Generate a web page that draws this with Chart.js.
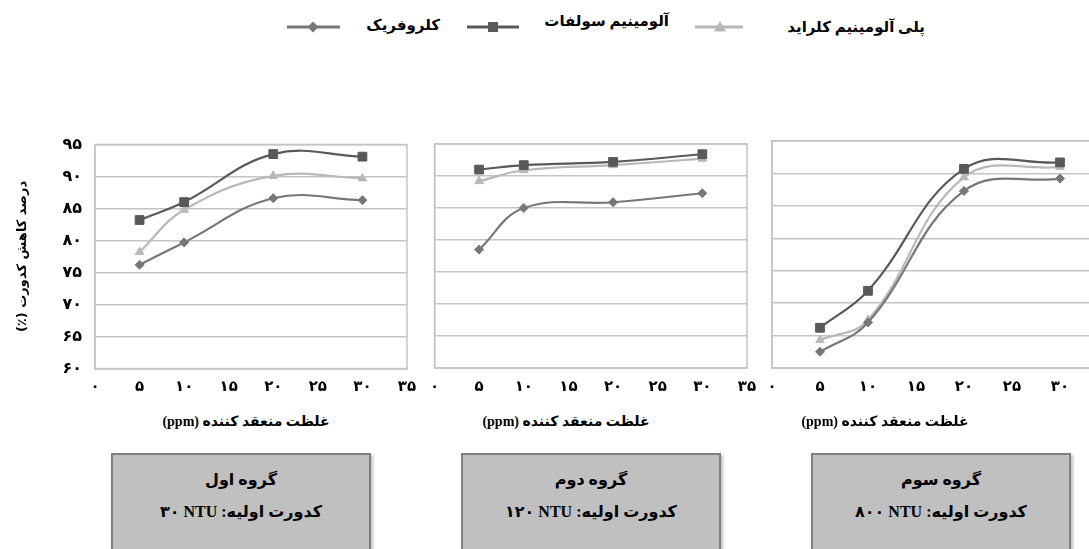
<!DOCTYPE html>
<html lang="fa">
<head>
<meta charset="utf-8">
<script src="https://cdn.jsdelivr.net/npm/chart.js@4.4.1/dist/chart.umd.min.js"></script>
<style>
  html, body { margin: 0; padding: 0; width: 1089px; height: 549px; overflow: hidden; background: #fff; }
  body { position: relative; font-family: "Liberation Serif", "DejaVu Sans", serif; font-weight: bold; color: #000; }
  .abs { position: absolute; }
  canvas { position: absolute; }
  .legtxt { position: absolute; font-size: 15px; line-height: 20px; white-space: nowrap; direction: rtl; }
  .xtitle { position: absolute; top: 412px; font-size: 14px; line-height: 20px; white-space: nowrap; direction: rtl; transform: translateX(-50%); }
  .box { position: absolute; top: 453px; width: 256px; height: 120px; background: #c0c0c0; border: 2px solid #7f7f7f;
         box-shadow: 2px 2px 3px rgba(0,0,0,0.25); direction: rtl; text-align: center; }
  .box div { position: absolute; left: 0; right: 0; font-size: 16px; line-height: 20px; white-space: nowrap; }
  .box .l1 { top: 15px; }
  .box .l2 { top: 47px; }
</style>
</head>
<body>

<!-- legend -->
<svg class="abs" style="left:285px;top:17px" width="58" height="20">
  <line x1="2" y1="10" x2="55" y2="10" stroke="#777" stroke-width="3"/>
  <path d="M28 4.5 L33.5 10 L28 15.5 L22.5 10 Z" fill="#777"/>
</svg>
<div class="legtxt" style="right:649px;top:15px">کلروفریک</div>
<svg class="abs" style="left:465px;top:17px" width="56" height="20">
  <line x1="2" y1="10" x2="54" y2="10" stroke="#595959" stroke-width="3"/>
  <rect x="23" y="5" width="10" height="10" fill="#595959"/>
</svg>
<div class="legtxt" style="right:420px;top:11px">آلومینیم سولفات</div>
<svg class="abs" style="left:693px;top:17px" width="54" height="20">
  <line x1="2" y1="10" x2="50" y2="10" stroke="#b8b8b8" stroke-width="3"/>
  <path d="M27 4 L33 14.5 L21 14.5 Z" fill="#b8b8b8"/>
</svg>
<div class="legtxt" style="right:164px;top:17px">پلی آلومینیم کلراید</div>

<canvas id="g1" dir="rtl" width="420" height="270" style="left:0px;top:130px"></canvas>
<canvas id="g2" dir="rtl" width="345" height="270" style="left:420px;top:130px"></canvas>
<canvas id="g3" dir="rtl" width="360" height="270" style="left:760px;top:130px"></canvas>

<div id="titles"></div>
<div id="boxes"></div>

<script>
// مقادیر خوانده شده از نمودار
const xValues = [5, 10, 20, 30];
const xTickLabels = ['۰', '۵', '۱۰', '۱۵', '۲۰', '۲۵', '۳۰', '۳۵'];
const yTickLabels = ['۶۰', '۶۵', '۷۰', '۷۵', '۸۰', '۸۵', '۹۰', '۹۵'];
const seriesNames = ['کلروفریک', 'آلومینیم سولفات', 'پلی آلومینیم کلراید'];
const yTitle = 'درصد کاهش کدورت (٪)';
const xTitle = 'غلظت منعقد کننده (ppm)';

// گروه اول - 30 NTU
const ferricG1 = [76.2, 79.7, 86.6, 86.3];
const alumG1   = [83.2, 86.0, 93.5, 93.1];
const pacG1    = [78.2, 84.8, 90.1, 89.7];

// گروه دوم - 120 NTU
const ferricG2 = [78.5, 85.0, 85.9, 87.3];
const alumG2   = [91.0, 91.7, 92.2, 93.4];
const pacG2    = [89.2, 90.9, 91.7, 92.7];

// گروه سوم - 800 NTU
const ferricG3 = [62.5, 67.0, 87.3, 89.2];
const alumG3   = [66.2, 71.9, 90.7, 91.7];
const pacG3    = [64.3, 67.4, 89.4, 91.0];

const groupNames = ['گروه اول', 'گروه دوم', 'گروه سوم'];
const initialNTU = ['۳۰', '۱۲۰', '۸۰۰'];

const gridColor = '#c4c4c4';
Chart.defaults.font.family = '"DejaVu Sans", sans-serif';
Chart.defaults.font.weight = 'bold';
Chart.defaults.font.size = 16;
Chart.defaults.color = '#000';

// کادر دور ناحیه رسم
const plotFrame = {
    id: 'plotFrame',
    beforeDatasetsDraw(chart) {
        const { ctx, chartArea: a } = chart;
        ctx.save();
        ctx.strokeStyle = gridColor;
        ctx.lineWidth = 1.5;
        ctx.strokeRect(a.left, a.top, a.right - a.left, a.bottom - a.top);
        ctx.restore();
    }
};

function pts(arr) {
    return xValues.map((x, i) => ({ x: x, y: arr[i] }));
}

function rasmGroup(id, ferric, alum, pac, o) {
    new Chart(document.getElementById(id), {
        type: 'line',
        data: {
            datasets: [
                { label: seriesNames[1], data: pts(alum), borderColor: '#595959', backgroundColor: '#595959',
                  pointStyle: 'rect', pointRadius: 6.2 },
                { label: seriesNames[0], data: pts(ferric), borderColor: '#777', backgroundColor: '#777',
                  pointStyle: 'rectRot', pointRadius: 4.5 },
                { label: seriesNames[2], data: pts(pac), borderColor: '#b8b8b8', backgroundColor: '#b8b8b8',
                  pointStyle: 'triangle', pointRadius: 5 }
            ]
        },
        options: {
            responsive: false,
            animation: false,
            events: [],
            layout: { padding: { top: o.top, right: o.right, left: 0, bottom: 0 } },
            plugins: { legend: { display: false }, tooltip: { enabled: false } },
            elements: {
                line: { tension: 0.4, borderWidth: 2.2, fill: false },
                point: { borderWidth: 1 }
            },
            scales: {
                x: {
                    type: 'linear', min: 0, max: 35,
                    ticks: { stepSize: 5, autoSkip: false, maxRotation: 0, padding: 2,
                             font: { size: 15 },
                             callback: (v, i) => xTickLabels[i] },
                    grid: { display: false },
                    border: { color: gridColor, width: 1.5 },
                    afterFit: s => { s.height = o.xh; s.paddingLeft = 0; s.paddingRight = 0; }
                },
                y: {
                    min: 60, max: 95,
                    ticks: { stepSize: 5, display: o.labels, padding: 13,
                             callback: (v, i) => yTickLabels[i] },
                    grid: { color: gridColor, lineWidth: 1.5, drawTicks: false },
                    border: { color: gridColor, width: 1.5 },
                    title: { display: o.labels, text: yTitle, font: { size: 13, weight: 'bold' },
                             padding: { top: 15, bottom: 0 } },
                    afterFit: s => { s.width = o.yw; s.paddingTop = 0; s.paddingBottom = 0; }
                }
            }
        },
        plugins: [plotFrame]
    });
}

rasmGroup('g1', ferricG1, alumG1, pacG1, { top: 14.5, right: 13, xh: 31.5, yw: 95, labels: true });
rasmGroup('g2', ferricG2, alumG2, pacG2, { top: 14, right: 18, xh: 32, yw: 14.5, labels: false });
rasmGroup('g3', ferricG3, alumG3, pacG3, { top: 11, right: 12, xh: 32, yw: 12, labels: false });

// عنوان محور افقی و کادر گروه‌ها
const titleX = [246, 566, 885];
const boxLeft = [111, 461, 811];
const titles = document.getElementById('titles');
const boxes = document.getElementById('boxes');
for (let i = 0; i < 3; i++) {
    const t = document.createElement('div');
    t.className = 'xtitle';
    t.style.left = titleX[i] + 'px';
    t.textContent = xTitle;
    titles.appendChild(t);

    const b = document.createElement('div');
    b.className = 'box';
    b.style.left = boxLeft[i] + 'px';
    b.innerHTML = '<div class="l1">' + groupNames[i] + '</div>' +
                  '<div class="l2">کدورت اولیه: <span dir="ltr">' + initialNTU[i] + ' NTU</span></div>';
    boxes.appendChild(b);
}
</script>
</body>
</html>
